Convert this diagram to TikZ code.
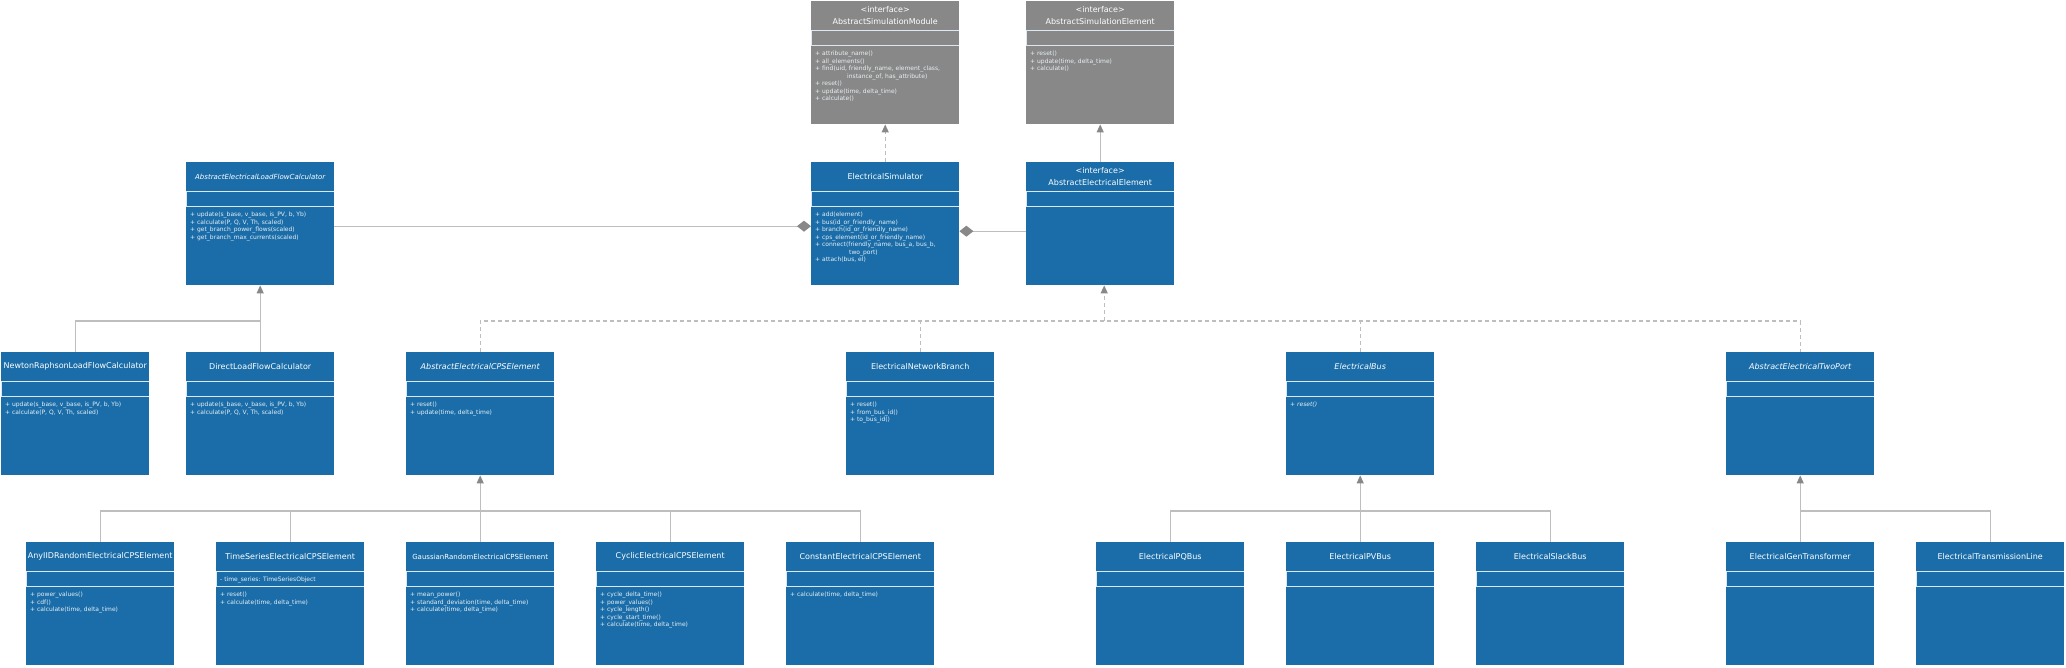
\documentclass[tikz,border=0pt]{standalone}
\usepackage{fontspec}
\setmainfont{DejaVu Sans}
\usetikzlibrary{arrows.meta}
\definecolor{umlblue}{RGB}{26,109,168}
\definecolor{umlgray}{RGB}{136,136,136}
\definecolor{linegray}{RGB}{190,190,190}
\definecolor{tipgray}{RGB}{136,136,136}

\begin{document}
\begin{tikzpicture}[x=1pt, y=-1pt,
    cls/.style={fill=umlblue, minimum width=148, minimum height=123, inner sep=0, anchor=north west,
      path picture={\draw[white!85!umlblue, line width=0.8] ([yshift=-29.5]path picture bounding box.north west) rectangle ([yshift=-44.5]path picture bounding box.north east);}},
    iface/.style={cls, fill=umlgray},
    hd/.style={text=white, font=\fontsize{8}{12}\selectfont, align=center, inner sep=0},
    small/.style={font=\fontsize{7}{10}\selectfont},
    ops/.style={text=white!90!umlblue, font=\fontsize{6}{7.5}\selectfont, align=left, inner sep=0, anchor=north west},
    gen/.style={draw=linegray, line width=1.2, -{Triangle[length=8, width=7, color=tipgray]}},
    real/.style={gen, dash pattern=on 4 off 3},
    link/.style={draw=linegray, line width=1.2},
    dlink/.style={link, dash pattern=on 4 off 3},
    comp/.style={link, {Diamond[length=14, width=11, color=tipgray]}-}]

    \useasboundingbox (0,0) rectangle (2066,667);

    \node[iface] (asm) at (811, 1) {};
    \node[iface] (ase) at (1026, 1) {};
    \node[cls] (alfc) at (186, 162) {};
    \node[cls] (es) at (811, 162) {};
    \node[cls] (aee) at (1026, 162) {};
    \node[cls] (nr) at (1, 352) {};
    \node[cls] (dlf) at (186, 352) {};
    \node[cls] (cps) at (406, 352) {};
    \node[cls] (enb) at (846, 352) {};
    \node[cls] (eb) at (1286, 352) {};
    \node[cls] (tp) at (1726, 352) {};
    \node[cls] (iid) at (26, 542) {};
    \node[cls] (ts) at (216, 542) {};
    \node[cls] (gss) at (406, 542) {};
    \node[cls] (cyc) at (596, 542) {};
    \node[cls] (cst) at (786, 542) {};
    \node[cls] (pq) at (1096, 542) {};
    \node[cls] (pv) at (1286, 542) {};
    \node[cls] (slack) at (1476, 542) {};
    \node[cls] (gt) at (1726, 542) {};
    \node[cls] (tl) at (1916, 542) {};

    \node[hd] (asm-h) at ([yshift=-14.5]asm.north) {<interface>\\AbstractSimulationModule};
    \node[hd] (ase-h) at ([yshift=-14.5]ase.north) {<interface>\\AbstractSimulationElement};
    \node[hd, small] (alfc-h) at ([yshift=-14.5]alfc.north) {\itshape AbstractElectricalLoadFlowCalculator};
    \node[hd] (es-h) at ([yshift=-14.5]es.north) {ElectricalSimulator};
    \node[hd] (aee-h) at ([yshift=-14.5]aee.north) {<interface>\\AbstractElectricalElement};
    \node[hd] (nr-h) at ([yshift=-14.5]nr.north) {NewtonRaphsonLoadFlowCalculator};
    \node[hd] (dlf-h) at ([yshift=-14.5]dlf.north) {DirectLoadFlowCalculator};
    \node[hd] (cps-h) at ([yshift=-14.5]cps.north) {\itshape AbstractElectricalCPSElement};
    \node[hd] (enb-h) at ([yshift=-14.5]enb.north) {ElectricalNetworkBranch};
    \node[hd] (eb-h) at ([yshift=-14.5]eb.north) {\itshape ElectricalBus};
    \node[hd] (tp-h) at ([yshift=-14.5]tp.north) {\itshape AbstractElectricalTwoPort};
    \node[hd] (iid-h) at ([yshift=-14.5]iid.north) {AnyIIDRandomElectricalCPSElement};
    \node[hd] (ts-h) at ([yshift=-14.5]ts.north) {TimeSeriesElectricalCPSElement};
    \node[hd, small] (gss-h) at ([yshift=-14.5]gss.north) {GaussianRandomElectricalCPSElement};
    \node[hd] (cyc-h) at ([yshift=-14.5]cyc.north) {CyclicElectricalCPSElement};
    \node[hd] (cst-h) at ([yshift=-14.5]cst.north) {ConstantElectricalCPSElement};
    \node[hd] (pq-h) at ([yshift=-14.5]pq.north) {ElectricalPQBus};
    \node[hd] (pv-h) at ([yshift=-14.5]pv.north) {ElectricalPVBus};
    \node[hd] (slack-h) at ([yshift=-14.5]slack.north) {ElectricalSlackBus};
    \node[hd] (gt-h) at ([yshift=-14.5]gt.north) {ElectricalGenTransformer};
    \node[hd] (tl-h) at ([yshift=-14.5]tl.north) {ElectricalTransmissionLine};

    \node[ops] (ts-a) at ([xshift=4, yshift=-34.5]ts.north west) {- time\_series: TimeSeriesObject};

    \node[ops] (asm-o) at ([xshift=4, yshift=-50]asm.north west) {+ attribute\_name()\\+ all\_elements()\\+ find(uid, friendly\_name, element\_class,\\\hspace*{32pt}instance\_of, has\_attribute)\\+ reset()\\+ update(time, delta\_time)\\+ calculate()};
    \node[ops] (ase-o) at ([xshift=4, yshift=-50]ase.north west) {+ reset()\\+ update(time, delta\_time)\\+ calculate()};
    \node[ops] (alfc-o) at ([xshift=4, yshift=-50]alfc.north west) {+ update(s\_base, v\_base, is\_PV, b, Yb)\\+ calculate(P, Q, V, Th, scaled)\\+ get\_branch\_power\_flows(scaled)\\+ get\_branch\_max\_currents(scaled)};
    \node[ops] (es-o) at ([xshift=4, yshift=-50]es.north west) {+ add(element)\\+ bus(id\_or\_friendly\_name)\\+ branch(id\_or\_friendly\_name)\\+ cps\_element(id\_or\_friendly\_name)\\+ connect(friendly\_name, bus\_a, bus\_b,\\\hspace*{34pt}two\_port)\\+ attach(bus, el)};
    \node[ops] (nr-o) at ([xshift=4, yshift=-50]nr.north west) {+ update(s\_base, v\_base, is\_PV, b, Yb)\\+ calculate(P, Q, V, Th, scaled)};
    \node[ops] (dlf-o) at ([xshift=4, yshift=-50]dlf.north west) {+ update(s\_base, v\_base, is\_PV, b, Yb)\\+ calculate(P, Q, V, Th, scaled)};
    \node[ops] (cps-o) at ([xshift=4, yshift=-50]cps.north west) {+ reset()\\+ update(time, delta\_time)};
    \node[ops] (enb-o) at ([xshift=4, yshift=-50]enb.north west) {+ reset()\\+ from\_bus\_id()\\+ to\_bus\_id()};
    \node[ops] (eb-o) at ([xshift=4, yshift=-50]eb.north west) {\itshape + reset()};
    \node[ops] (iid-o) at ([xshift=4, yshift=-50]iid.north west) {+ power\_values()\\+ cdf()\\+ calculate(time, delta\_time)};
    \node[ops] (ts-o) at ([xshift=4, yshift=-50]ts.north west) {+ reset()\\+ calculate(time, delta\_time)};
    \node[ops] (gss-o) at ([xshift=4, yshift=-50]gss.north west) {+ mean\_power()\\+ standard\_deviation(time, delta\_time)\\+ calculate(time, delta\_time)};
    \node[ops] (cyc-o) at ([xshift=4, yshift=-50]cyc.north west) {+ cycle\_delta\_time()\\+ power\_values()\\+ cycle\_length()\\+ cycle\_start\_time()\\+ calculate(time, delta\_time)};
    \node[ops] (cst-o) at ([xshift=4, yshift=-50]cst.north west) {+ calculate(time, delta\_time)};

    \draw[real] (es.north) -- (asm.south);
    \draw[gen] (aee.north) -- (ase.south);
    \draw[comp] ([yshift=-2.5]es.west) -- ([yshift=-2.5]alfc.east);
    \draw[comp] ([yshift=-7.5]es.east) -- ([yshift=-7.5]aee.west);

    \coordinate (lfbar) at (alfc.south |- 0,321);
    \draw[link] (nr.north) |- (lfbar);
    \draw[gen] (dlf.north) -- (alfc.south);

    \coordinate (aebar) at ([xshift=4]aee.south |- 0,321);
    \draw[dlink] (cps.north) -- (cps.north |- aebar) -| (tp.north);
    \draw[dlink] (enb.north) -- (enb.north |- aebar);
    \draw[dlink] (eb.north) -- (eb.north |- aebar);
    \draw[real] (aebar) -- (aebar |- aee.south);

    \coordinate (cpsbar) at (cps.south |- 0,511);
    \draw[link] (iid.north) -- (iid.north |- cpsbar) -| (cst.north);
    \draw[link] (ts.north) -- (ts.north |- cpsbar);
    \draw[link] (cyc.north) -- (cyc.north |- cpsbar);
    \draw[gen] (gss.north) -- (cps.south);

    \coordinate (busbar) at (eb.south |- 0,511);
    \draw[link] (pq.north) -- (pq.north |- busbar) -| (slack.north);
    \draw[gen] (pv.north) -- (eb.south);

    \coordinate (tpbar) at (tp.south |- 0,511);
    \draw[link] (tl.north) -- (tl.north |- tpbar) -- (tpbar);
    \draw[gen] (gt.north) -- (tp.south);

\end{tikzpicture}
\end{document}
